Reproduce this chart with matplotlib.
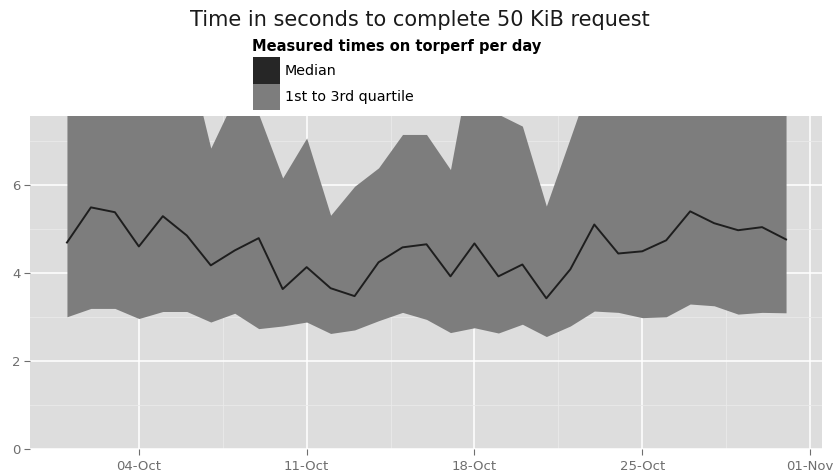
import numpy as np
import matplotlib
matplotlib.use("Agg")
from matplotlib import pyplot as plt
import matplotlib.dates as mdates
from matplotlib.patches import Rectangle

# one value per day, 01-Oct to 31-Oct
days = np.arange(np.datetime64("2011-10-01"), np.datetime64("2011-11-01"))
median = [4.70, 5.50, 5.39, 4.61, 5.30, 4.86, 4.18, 4.52, 4.80, 3.64,
          4.14, 3.66, 3.48, 4.25, 4.59, 4.66, 3.93, 4.68, 3.93, 4.20,
          3.43, 4.09, 5.11, 4.45, 4.50, 4.75, 5.41, 5.14, 4.98, 5.05, 4.77]
q1 = [3.01, 3.20, 3.20, 2.97, 3.13, 3.13, 2.89, 3.09, 2.74, 2.80,
      2.89, 2.63, 2.71, 2.92, 3.11, 2.95, 2.65, 2.76, 2.64, 2.84,
      2.56, 2.80, 3.14, 3.11, 2.99, 3.01, 3.30, 3.26, 3.07, 3.11, 3.10]
q3 = [8.6, 8.8, 8.9, 8.7, 8.9, 9.1, 6.85, 8.0, 7.62, 6.17,
      7.08, 5.32, 5.98, 6.40, 7.16, 7.16, 6.36, 9.3, 7.62, 7.35,
      5.53, 7.08, 8.64, 8.9, 9.0, 9.2, 9.1, 9.0, 8.9, 8.8, 8.7]

title = "Time in seconds to complete 50 KiB request"
legend_title = "Measured times on torperf per day"
legend_labels = ["Median", "1st to 3rd quartile"]

bg = "#dddddd"
ribbon = "#7d7d7d"
line_col = "#1e1e1e"
key_dark = "#262626"
tick_col = "#6e6e6e"

W, H = 839, 475
fig = plt.figure(figsize=(W / 100, H / 100), dpi=100)
ax = fig.add_axes([30 / W, 26 / H, 792 / W, 333 / H])
ax.set_facecolor(bg)

ax.fill_between(days, q1, q3, color=ribbon, linewidth=0, zorder=2)
ax.plot(days, median, color=line_col, linewidth=1.4, zorder=3)

ax.set_ylim(0, 7.58)
ax.set_xlim(np.datetime64("2011-09-29T11:00"), np.datetime64("2011-11-01T12:00"))

ax.set_yticks([0, 2, 4, 6])
ax.set_yticks([1, 3, 5, 7], minor=True)
ax.set_xticks([np.datetime64("2011-10-04"), np.datetime64("2011-10-11"),
               np.datetime64("2011-10-18"), np.datetime64("2011-10-25"),
               np.datetime64("2011-11-01")])
ax.set_xticks([np.datetime64("2011-10-07T12:00"), np.datetime64("2011-10-14T12:00"),
               np.datetime64("2011-10-21T12:00"), np.datetime64("2011-10-28T12:00")],
              minor=True)
ax.xaxis.set_major_formatter(mdates.DateFormatter("%d-%b"))

ax.grid(True, which="major", color="white", linewidth=1.1, zorder=1)
ax.grid(True, which="minor", color="#eaeaea", linewidth=0.6, zorder=1)
ax.set_axisbelow(True)
for s in ax.spines.values():
    s.set_visible(False)
ax.tick_params(which="major", colors=tick_col, labelsize=9.5, length=4.3, width=0.8)
ax.tick_params(axis="x", pad=3.5)
ax.tick_params(axis="y", pad=2.5)
ax.tick_params(which="minor", length=0)

fig.text(0.5, 1 - 20 / H, title, ha="center", va="center", fontsize=15, color="#1a1a1a")

# legend drawn by hand, ggplot style: keys stacked without gaps
fig.text(252 / W, 1 - 47 / H, legend_title, ha="left", va="center",
         fontsize=10.5, fontweight="bold", color="black")
key_cols = [key_dark, ribbon]
for i, (lab, col) in enumerate(zip(legend_labels, key_cols)):
    top = 57 + i * 26.5
    fig.add_artist(Rectangle((253 / W, 1 - (top + 26.5) / H), 27 / W, 26.5 / H,
                             transform=fig.transFigure, facecolor=col, edgecolor="none"))
    fig.text(285 / W, 1 - (top + 13.5) / H, lab, ha="left", va="center",
             fontsize=10.3, color="black")

fig.savefig("out.png", dpi=100)
